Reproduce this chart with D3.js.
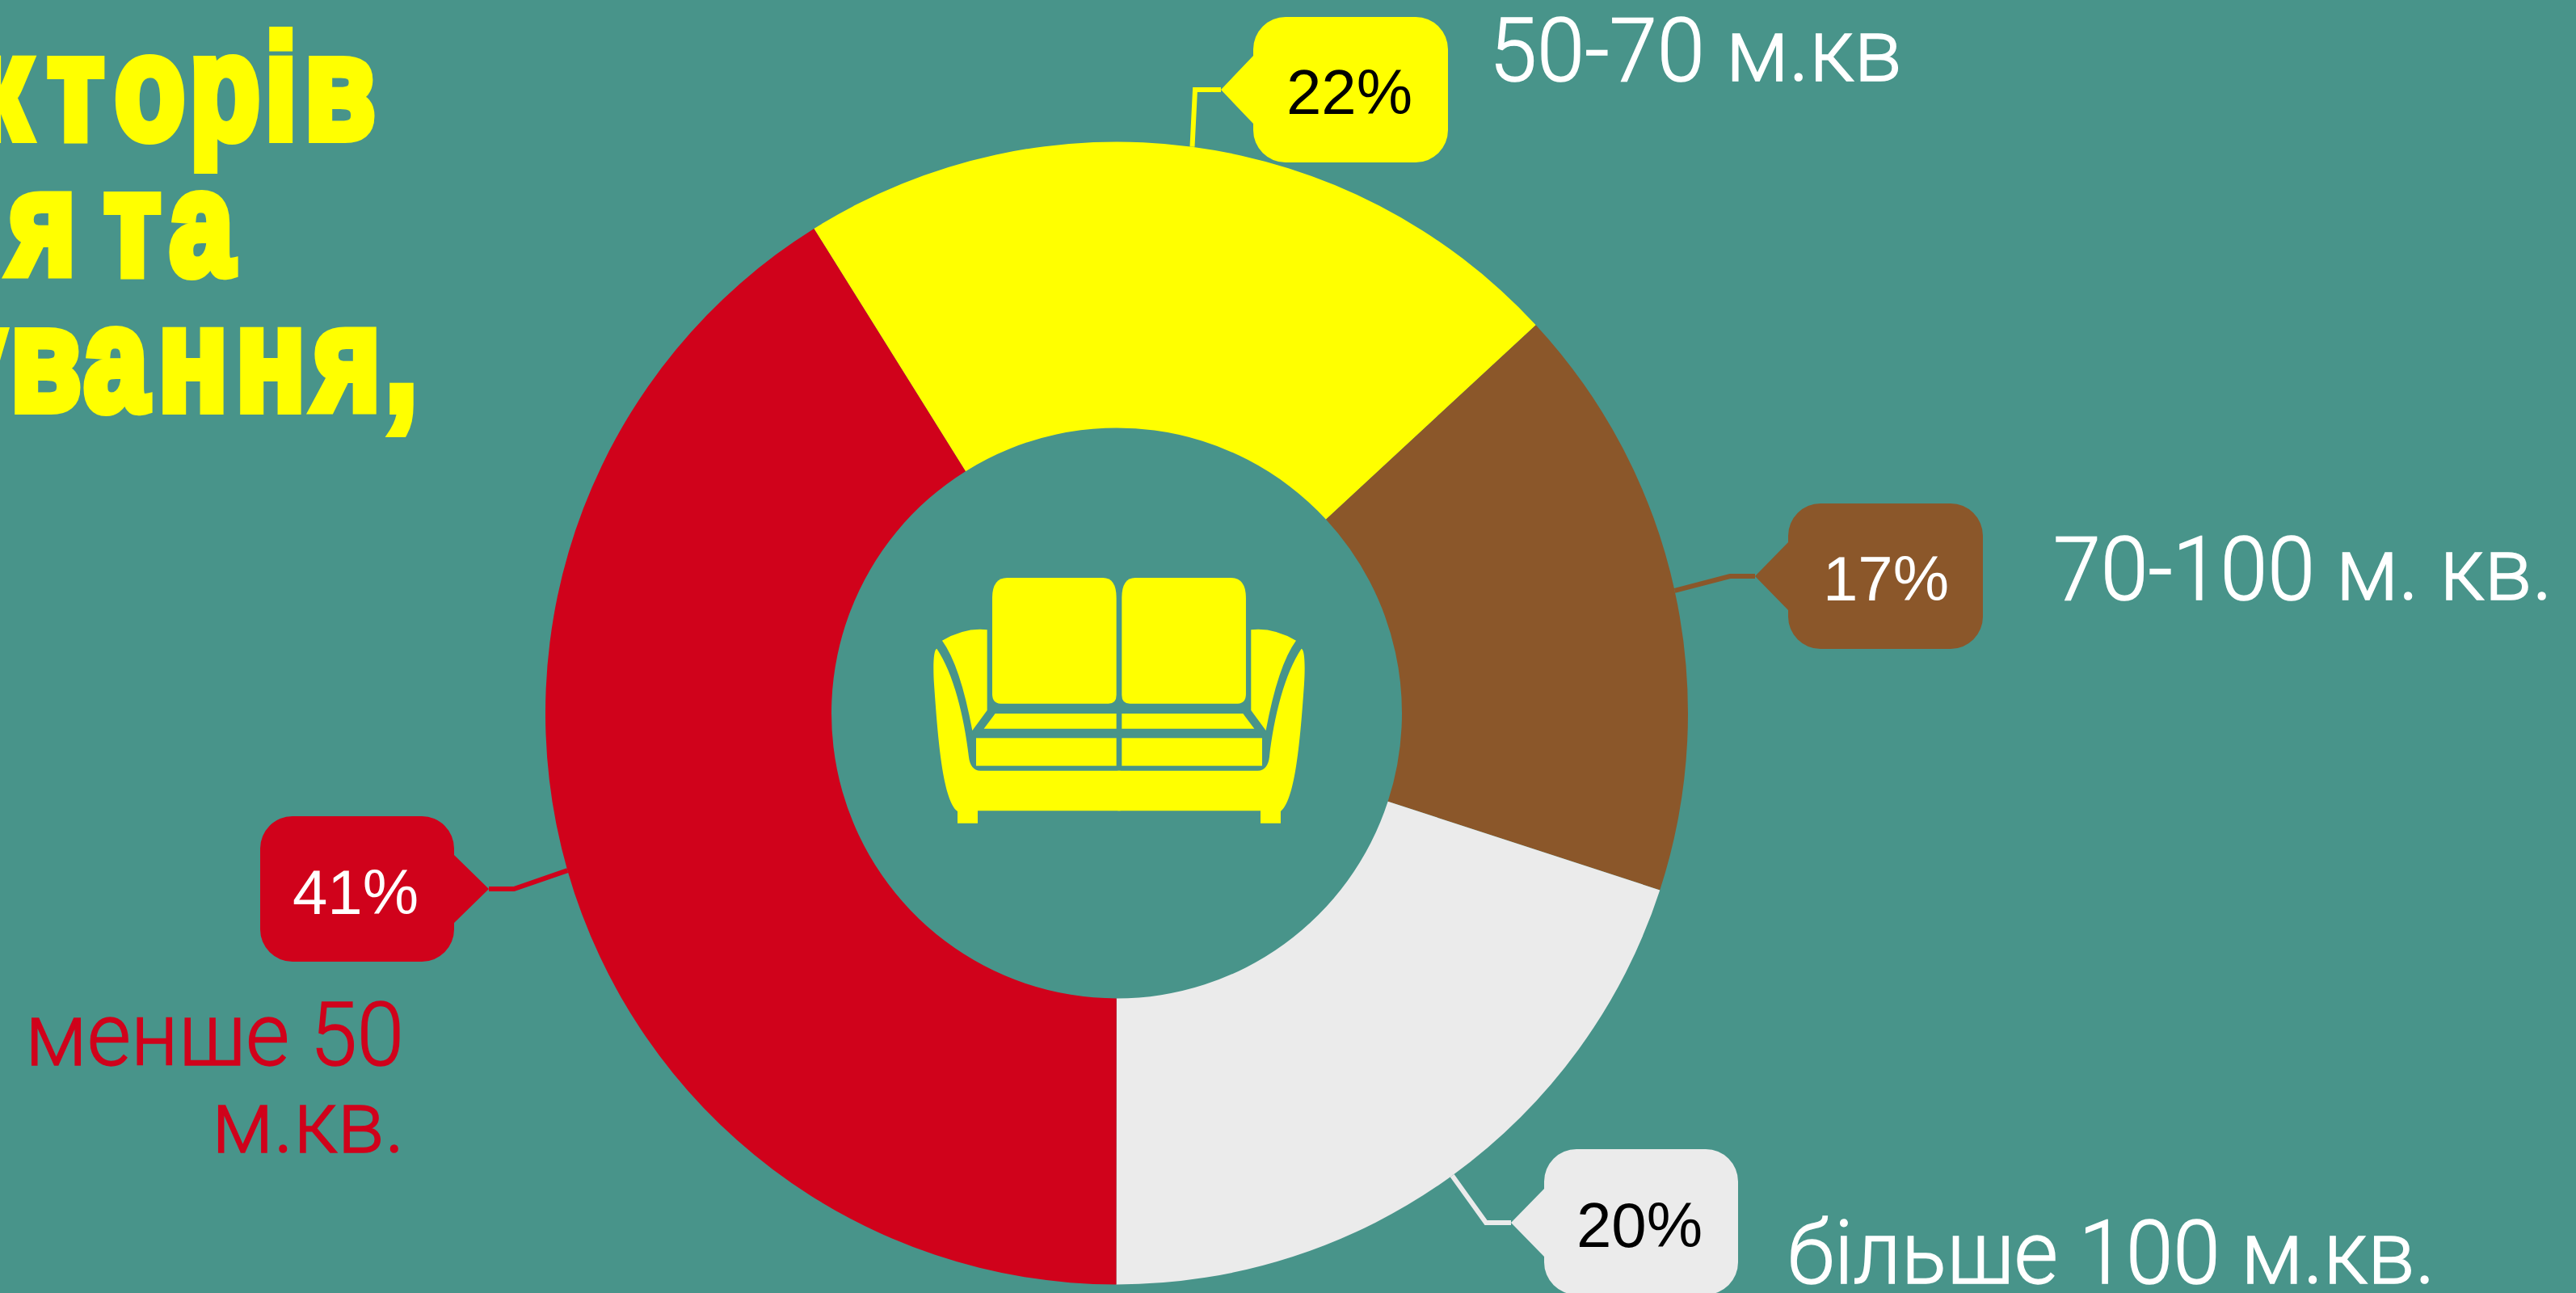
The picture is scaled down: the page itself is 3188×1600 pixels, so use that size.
<!DOCTYPE html>
<meta charset="utf-8" />
<head>
  <script src="https://d3js.org/d3.v7.min.js"></script>
  <style>
    html, body { margin: 0; padding: 0; background: #48948a; overflow: hidden; }
    svg { display: block; }
  </style>
</head>
<body>
  <div id="dataviz"></div>
</body>
<script>
  // chart data (slices are a bit off the rounded labels)
  const categories = ["50-70 м.кв", "70-100 м. кв.", "більше 100 м.кв.", "менше 50 м.кв."];
  const values = [22, 16.9, 20, 41.1];
  const valueLabels = ["22%", "17%", "20%", "41%"];
  const categoryLines = [["50-70 м.кв"], ["70-100 м. кв."], ["більше 100 м.кв."], ["менше 50", "м.кв."]];
  const titleLines = ["кторів", "ня та", "ування,"];

  const colors = ["#ffff00", "#8b572a", "#ebebeb", "#d0021b"];
  const labelColors = ["#000000", "#ffffff", "#000000", "#ffffff"];
  const categoryColors = ["#ffffff", "#ffffff", "#ffffff", "#d0021b"];

  const width = 3188, height = 1600;
  const cx = 1382, cy = 882.5, outerR = 707, innerR = 353;

  // callout boxes: box edges, tip, elbow of the leader line
  const boxes = [
    { x0: 1551, x1: 1792, y0: 21, y1: 201, tipX: 1511, tipY: 111, elbowX: 1479, textX: 1670, textY: 141 },
    { x0: 2213, x1: 2454, y0: 623, y1: 803, tipX: 2172, tipY: 713, elbowX: 2141, textX: 2334, textY: 743 },
    { x0: 1911, x1: 2151, y0: 1422, y1: 1602, tipX: 1870, tipY: 1513, elbowX: 1839, textX: 2029, textY: 1543 },
    { x0: 322, x1: 562, y0: 1010, y1: 1190, tipX: 605, tipY: 1100, elbowX: 636, textX: 440, textY: 1131 }
  ];

  // left edge, right edge, baseline of every category text line
  const labelBoxes = [
    [{ x0: 1843, x1: 2354, y: 100 }],
    [{ x0: 2541, x1: 3159, y: 742 }],
    [{ x0: 2212, x1: 3014, y: 1588 }],
    [{ x0: 31, x1: 500, y: 1318 }, { x0: 262, x1: 501, y: 1426 }]
  ];

  // left edge of every title letter, and baseline of the line
  const titleScale = 0.78;
  const titleBoxes = [
    { xs: [-33, 59, 142, 235, 328, 377], y: 171 },
    { xs: [-88, 11, 110, 129, 210], y: 339 },
    { xs: [-73, 13, 104, 196, 292, 388, 477], y: 507 }
  ];

  var svg = d3
    .select("#dataviz")
    .append("svg")
    .attr("width", width)
    .attr("height", height)
    .attr("viewBox", "0 0 " + width + " " + height);

  svg.append("rect").attr("width", width).attr("height", height).attr("fill", "#48948a");

  // title, squeezed sideways and thickened to get close to the poster face
  svg
    .append("g")
    .attr("transform", "scale(" + titleScale + ",1)")
    .selectAll("text.title")
    .data(titleLines)
    .enter()
    .append("text")
    .attr("class", "title")
    .attr("x", (d, i) => titleBoxes[i].xs.map((x) => x / titleScale).join(" "))
    .attr("y", (d, i) => titleBoxes[i].y)
    .style("font-family", "'Liberation Sans Narrow', 'Liberation Sans', sans-serif")
    .style("font-weight", "bold")
    .style("font-size", "182px")
    .attr("fill", "#ffff00")
    .attr("stroke", "#ffff00")
    .attr("stroke-width", 12)
    .attr("stroke-linejoin", "miter")
    .text((d) => d);

  // donut
  var color = d3.scaleOrdinal().domain(categories).range(colors);
  var startAngle = (-32 * Math.PI) / 180;
  var pie = d3
    .pie()
    .sort(null)
    .startAngle(startAngle)
    .endAngle(startAngle + 2 * Math.PI);
  var arcs = pie(values);
  var arc = d3.arc().innerRadius(innerR).outerRadius(outerR);
  var rim = d3.arc().innerRadius(outerR).outerRadius(outerR);

  var chart = svg.append("g").attr("transform", "translate(" + cx + "," + cy + ")");

  chart
    .selectAll("path")
    .data(arcs)
    .enter()
    .append("path")
    .attr("d", arc)
    .attr("fill", (d, i) => color(categories[i]));

  // leader lines go from the middle of each slice to the callout
  svg
    .selectAll("path.leader")
    .data(arcs)
    .enter()
    .append("path")
    .attr("class", "leader")
    .attr("d", function (d, i) {
      var p = rim.centroid(d);
      var b = boxes[i];
      return d3.line()([[p[0] + cx, p[1] + cy], [b.elbowX, b.tipY], [b.tipX, b.tipY]]);
    })
    .attr("fill", "none")
    .attr("stroke", (d, i) => colors[i])
    .attr("stroke-width", 6);

  function calloutPath(b) {
    var r = 40, notch = 42;
    var p = d3.path();
    p.moveTo(b.x0 + r, b.y0);
    p.arcTo(b.x1, b.y0, b.x1, b.y0 + r, r);
    if (b.tipX > b.x1) {
      p.lineTo(b.x1, b.tipY - notch);
      p.lineTo(b.tipX, b.tipY);
      p.lineTo(b.x1, b.tipY + notch);
    }
    p.arcTo(b.x1, b.y1, b.x1 - r, b.y1, r);
    p.arcTo(b.x0, b.y1, b.x0, b.y1 - r, r);
    if (b.tipX < b.x0) {
      p.lineTo(b.x0, b.tipY + notch);
      p.lineTo(b.tipX, b.tipY);
      p.lineTo(b.x0, b.tipY - notch);
    }
    p.arcTo(b.x0, b.y0, b.x0 + r, b.y0, r);
    p.closePath();
    return p.toString();
  }

  svg
    .selectAll("path.callout")
    .data(boxes)
    .enter()
    .append("path")
    .attr("class", "callout")
    .attr("d", calloutPath)
    .attr("fill", (d, i) => colors[i]);

  svg
    .selectAll("text.value")
    .data(valueLabels)
    .enter()
    .append("text")
    .attr("class", "value")
    .attr("x", (d, i) => boxes[i].textX)
    .attr("y", (d, i) => boxes[i].textY)
    .attr("text-anchor", "middle")
    .style("font-family", "'Liberation Sans', Arial, sans-serif")
    .style("font-size", "78px")
    .attr("fill", (d, i) => labelColors[i])
    .text((d) => d);

  // category names
  categoryLines.forEach(function (lines, i) {
    lines.forEach(function (line, j) {
      var b = labelBoxes[i][j];
      svg
        .append("text")
        .attr("class", "category")
        .attr("x", b.x0)
        .attr("y", b.y)
        .attr("textLength", b.x1 - b.x0)
        .attr("lengthAdjust", "spacingAndGlyphs")
        .style("font-family", "Roboto, sans-serif")
        .style("font-weight", 300)
        .style("font-size", "110px")
        .attr("fill", categoryColors[i])
        .attr("stroke", categoryColors[i])
        .attr("stroke-width", 1.5)
        .text(line);
    });
  });

  // sofa icon, drawn in a 1560x1080 box then scaled down
  var sofa = svg
    .append("g")
    .attr("transform", "translate(1120,680) scale(0.3333)")
    .attr("fill", "#ffff00");

  function sofaHalf(g) {
    g.append("path").attr("d", "M324 180Q324 105 380 105H735Q785 105 785 180V540Q785 572 755 572H355Q324 572 324 535Z");
    g.append("path").attr("d", "M305 298Q225 288 138 338Q205 430 250 672L305 597Z");
    g.append("path").attr("d", "M335 609H785V665H293Z");
    g.append("rect").attr("x", 264).attr("y", 700).attr("width", 521).attr("height", 103);
    g.append("path").attr("d", "M118 368C180 460 220 620 237 770C240 800 255 821 280 821H800V970H270V1016H195V972C145 930 125 750 108 500C104 440 105 370 118 368Z");
  }
  sofa.append("g").call(sofaHalf);
  sofa.append("g").attr("transform", "translate(1590,0) scale(-1,1)").call(sofaHalf);
</script>
